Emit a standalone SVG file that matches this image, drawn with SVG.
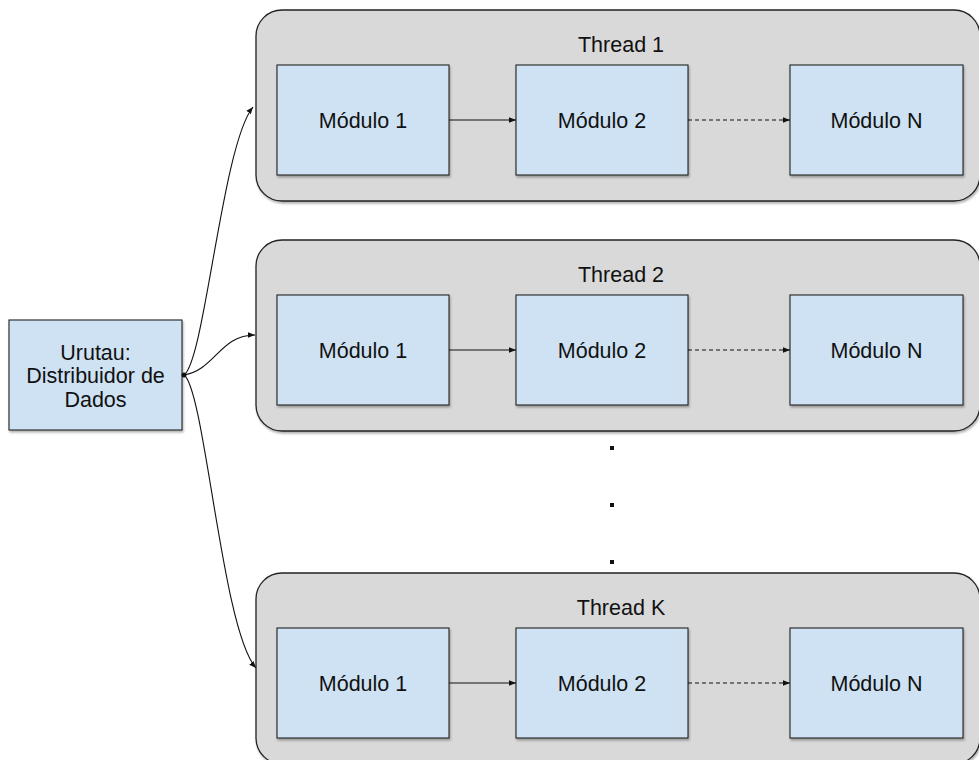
<svg xmlns="http://www.w3.org/2000/svg" width="979" height="760" viewBox="0 0 979 760">
<defs>
<style>
.thread{fill:#d9d9d9;stroke:#222;stroke-width:1.3;filter:url(#sh)}
.mod{fill:#cfe2f3;stroke:#222;stroke-width:1.1;filter:url(#sh)}
.t{font-family:"Liberation Sans",Arial,sans-serif;font-size:21.5px;fill:#111;text-anchor:middle}
.c{fill:none;stroke:#111;stroke-width:1.1}
.d{stroke-dasharray:4 3}
.dot{fill:#111}
</style>
<filter id="sh" x="-10%" y="-10%" width="130%" height="130%">
<feDropShadow dx="1" dy="2" stdDeviation="1.3" flood-color="#000" flood-opacity="0.3"/>
</filter>
<marker id="ah" viewBox="0 0 10 10" refX="10" refY="5" markerWidth="7" markerHeight="7" markerUnits="userSpaceOnUse" orient="auto">
<path d="M0,1 L10,5 L0,9 z" fill="#111"/>
</marker>
</defs>
<rect width="979" height="760" fill="#fff"/>

<g id="thread1">
<rect class="thread" x="256" y="10" width="724" height="191" rx="26"/>
<text class="t" x="621" y="52">Thread 1</text>
</g>
<g id="thread2">
<rect class="thread" x="256" y="240" width="724" height="191" rx="26"/>
<text class="t" x="621" y="282">Thread 2</text>
</g>
<g id="threadK">
<rect class="thread" x="256" y="573" width="724" height="191" rx="26"/>
<text class="t" x="621" y="615">Thread K</text>
</g>

<g id="t1m1"><rect class="mod" x="277" y="65" width="172" height="110"/><text class="t" x="363" y="128">Módulo 1</text></g>
<g id="t1m2"><rect class="mod" x="516" y="65" width="172" height="110"/><text class="t" x="602" y="128">Módulo 2</text></g>
<g id="t1mN"><rect class="mod" x="790" y="65" width="173" height="110"/><text class="t" x="876.5" y="128">Módulo N</text></g>

<g id="t2m1"><rect class="mod" x="277" y="295" width="172" height="110"/><text class="t" x="363" y="358">Módulo 1</text></g>
<g id="t2m2"><rect class="mod" x="516" y="295" width="172" height="110"/><text class="t" x="602" y="358">Módulo 2</text></g>
<g id="t2mN"><rect class="mod" x="790" y="295" width="173" height="110"/><text class="t" x="876.5" y="358">Módulo N</text></g>

<g id="tKm1"><rect class="mod" x="277" y="628" width="172" height="110"/><text class="t" x="363" y="691">Módulo 1</text></g>
<g id="tKm2"><rect class="mod" x="516" y="628" width="172" height="110"/><text class="t" x="602" y="691">Módulo 2</text></g>
<g id="tKmN"><rect class="mod" x="790" y="628" width="173" height="110"/><text class="t" x="876.5" y="691">Módulo N</text></g>

<g id="urutau">
<rect class="mod" x="9" y="320" width="173" height="110"/>
<text class="t" x="95.5" y="360">Urutau:</text>
<text class="t" x="95.5" y="383">Distribuidor de</text>
<text class="t" x="95.5" y="407">Dados</text>
</g>

<g id="ellipsis">
<rect class="dot" x="610" y="446" width="4" height="4"/>
<rect class="dot" x="610" y="503" width="4" height="4"/>
<rect class="dot" x="610" y="560" width="4" height="4"/>
</g>

<g id="connectors">
<circle cx="184" cy="375" r="2.5" fill="#111"/>
<path class="c" d="M184,375 C205,360 222,145 253,107" marker-end="url(#ah)"/>
<path class="c" d="M184,375 C215,370 220,335 255,335" marker-end="url(#ah)"/>
<path class="c" d="M184,375 C205,390 222,630 256,668" marker-end="url(#ah)"/>

<path class="c" d="M449,120 L516,120" marker-end="url(#ah)"/>
<path class="c d" d="M688,120 L790,120" marker-end="url(#ah)"/>
<path class="c" d="M449,350 L516,350" marker-end="url(#ah)"/>
<path class="c d" d="M688,350 L790,350" marker-end="url(#ah)"/>
<path class="c" d="M449,683 L516,683" marker-end="url(#ah)"/>
<path class="c d" d="M688,683 L790,683" marker-end="url(#ah)"/>
</g>
</svg>
